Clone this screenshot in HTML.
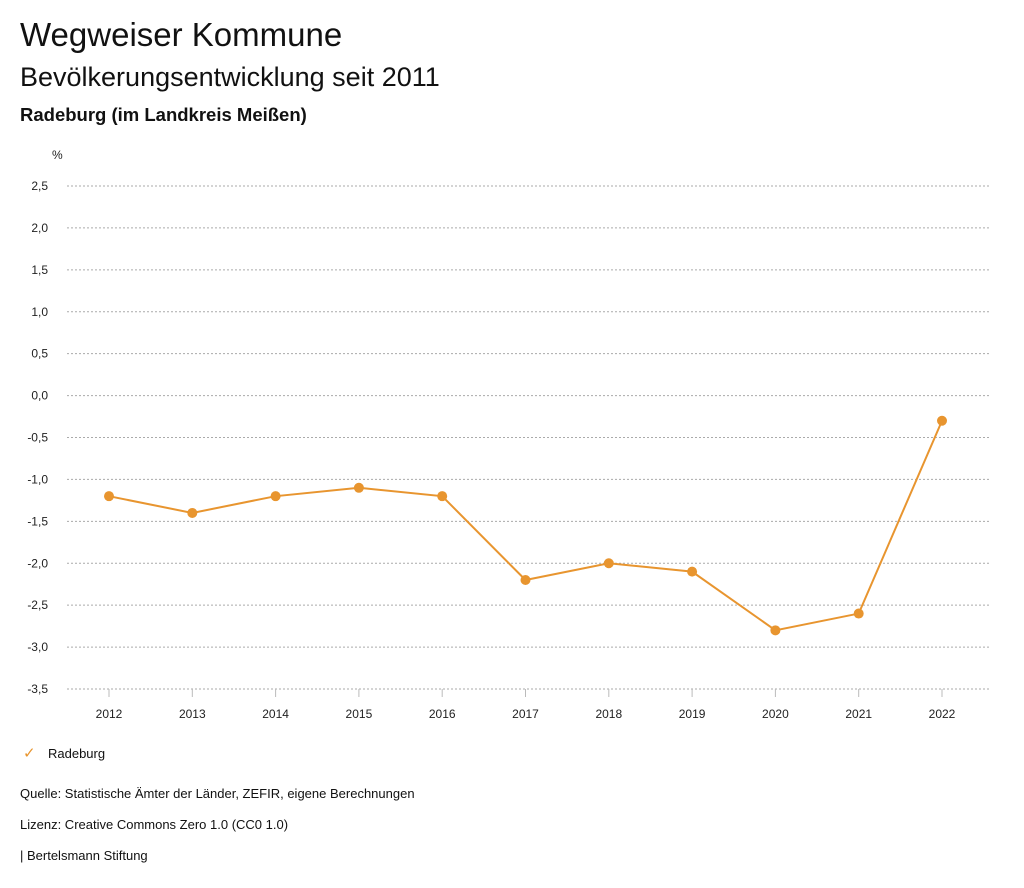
<!DOCTYPE html>
<html><head><meta charset="utf-8"><style>
body{margin:0;background:#fff;font-family:"Liberation Sans",sans-serif;color:#111;}
.t{position:absolute;white-space:nowrap;}
</style></head><body>
<div style="position:relative;width:1024px;height:888px;overflow:hidden">
<div class="t" style="left:20px;top:16px;font-size:33px">Wegweiser Kommune</div>
<div class="t" style="left:20px;top:62px;font-size:27px">Bevölkerungsentwicklung seit 2011</div>
<div class="t" style="left:20px;top:104px;font-size:18.5px;font-weight:bold">Radeburg (im Landkreis Meißen)</div>
<svg id="chart" width="1024" height="888" style="position:absolute;left:0;top:0"></svg>
<div class="t" style="left:48px;top:746px;font-size:13px"><span style="position:absolute;left:-25px;top:-2px;color:#e8952f;font-size:15px">✓</span>Radeburg</div>
<div class="t" style="left:20px;top:786px;font-size:13px">Quelle: Statistische Ämter der Länder, ZEFIR, eigene Berechnungen</div>
<div class="t" style="left:20px;top:817px;font-size:13px">Lizenz: Creative Commons Zero 1.0 (CC0 1.0)</div>
<div class="t" style="left:20px;top:848px;font-size:13px">| Bertelsmann Stiftung</div>
</div>
<script>
const years=["2012","2013","2014","2015","2016","2017","2018","2019","2020","2021","2022"];
const values=[-1.2,-1.4,-1.2,-1.1,-1.2,-2.2,-2.0,-2.1,-2.8,-2.6,-0.3];
const yTicks=[2.5,2.0,1.5,1.0,0.5,0.0,-0.5,-1.0,-1.5,-2.0,-2.5,-3.0,-3.5];
const NS="http://www.w3.org/2000/svg";
const svg=document.getElementById('chart');
const yMin=-3.5,yMax=2.5,plotTop=186,plotBot=689,plotLeft=67,plotRight=990;
const yS=v=>plotBot-(v-yMin)/(yMax-yMin)*(plotBot-plotTop);
const x0=109,x1=942;
const xS=i=>x0+i*(x1-x0)/(years.length-1);
function mk(t,a){const e=document.createElementNS(NS,t);for(const k in a)e.setAttribute(k,a[k]);svg.appendChild(e);return e;}
const u=mk('text',{x:52,y:159,'font-size':12,fill:'#222'});u.textContent='%';


yTicks.forEach(v=>{
 const g=mk('line',{x1:plotLeft,x2:plotRight,y1:yS(v),y2:yS(v),stroke:'#aaa','stroke-dasharray':'2,2','stroke-width':1});
 
 
 const t=mk('text',{x:48,y:yS(v)+4,'font-size':12,'text-anchor':'end',fill:'#222'});
 t.textContent=v.toFixed(1).replace('.',',');
 
 
});
years.forEach((yr,i)=>{
 const l=mk('line',{x1:xS(i),x2:xS(i),y1:plotBot,y2:plotBot+8,stroke:'#bbb'});
 
 
 const t=mk('text',{x:xS(i),y:718,'font-size':12,'text-anchor':'middle',fill:'#222'});
 t.textContent=yr;
 
 
});
const p=mk('polyline',{points:values.map((v,i)=>xS(i)+','+yS(v)).join(' '),fill:'none',stroke:'#e8952f','stroke-width':2});


values.forEach((v,i)=>{
 const c=mk('circle',{cx:xS(i),cy:yS(v),r:5,fill:'#e8952f'});
 
 
});
</script>
</body></html>
